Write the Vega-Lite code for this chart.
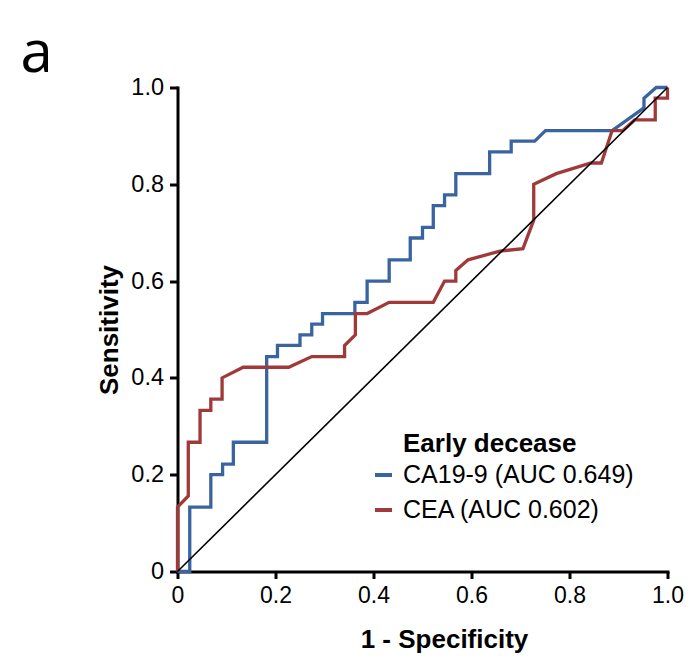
{
  "$schema": "https://vega.github.io/schema/vega-lite/v6.json",
  "width": 490,
  "height": 484,
  "autosize": {"type": "none"},
  "padding": {"left": 177.5, "top": 87.5, "right": 23.5, "bottom": 89.5},
  "background": "white",
  "title": {"text": "a", "anchor": "start", "frame": "group", "font": "Open Sans", "fontSize": 58, "fontWeight": "normal", "color": "black", "dx": -157, "offset": -8},
  "config": {"view": {"stroke": null}},
  "datasets": {
    "roc": [
      {"s": "CA19-9 (AUC 0.649)", "i": 1, "x": 0, "y": 0},
      {"s": "CA19-9 (AUC 0.649)", "i": 2, "x": 0.025, "y": 0},
      {"s": "CA19-9 (AUC 0.649)", "i": 3, "x": 0.025, "y": 0.133},
      {"s": "CA19-9 (AUC 0.649)", "i": 4, "x": 0.068, "y": 0.133},
      {"s": "CA19-9 (AUC 0.649)", "i": 5, "x": 0.068, "y": 0.2},
      {"s": "CA19-9 (AUC 0.649)", "i": 6, "x": 0.092, "y": 0.2},
      {"s": "CA19-9 (AUC 0.649)", "i": 7, "x": 0.092, "y": 0.222},
      {"s": "CA19-9 (AUC 0.649)", "i": 8, "x": 0.114, "y": 0.222},
      {"s": "CA19-9 (AUC 0.649)", "i": 9, "x": 0.114, "y": 0.267},
      {"s": "CA19-9 (AUC 0.649)", "i": 10, "x": 0.182, "y": 0.267},
      {"s": "CA19-9 (AUC 0.649)", "i": 11, "x": 0.182, "y": 0.444},
      {"s": "CA19-9 (AUC 0.649)", "i": 12, "x": 0.204, "y": 0.444},
      {"s": "CA19-9 (AUC 0.649)", "i": 13, "x": 0.204, "y": 0.467},
      {"s": "CA19-9 (AUC 0.649)", "i": 14, "x": 0.25, "y": 0.467},
      {"s": "CA19-9 (AUC 0.649)", "i": 15, "x": 0.25, "y": 0.489},
      {"s": "CA19-9 (AUC 0.649)", "i": 16, "x": 0.274, "y": 0.489},
      {"s": "CA19-9 (AUC 0.649)", "i": 17, "x": 0.274, "y": 0.511},
      {"s": "CA19-9 (AUC 0.649)", "i": 18, "x": 0.296, "y": 0.511},
      {"s": "CA19-9 (AUC 0.649)", "i": 19, "x": 0.296, "y": 0.533},
      {"s": "CA19-9 (AUC 0.649)", "i": 20, "x": 0.362, "y": 0.533},
      {"s": "CA19-9 (AUC 0.649)", "i": 21, "x": 0.362, "y": 0.556},
      {"s": "CA19-9 (AUC 0.649)", "i": 22, "x": 0.387, "y": 0.556},
      {"s": "CA19-9 (AUC 0.649)", "i": 23, "x": 0.387, "y": 0.6},
      {"s": "CA19-9 (AUC 0.649)", "i": 24, "x": 0.432, "y": 0.6},
      {"s": "CA19-9 (AUC 0.649)", "i": 25, "x": 0.432, "y": 0.644},
      {"s": "CA19-9 (AUC 0.649)", "i": 26, "x": 0.475, "y": 0.644},
      {"s": "CA19-9 (AUC 0.649)", "i": 27, "x": 0.475, "y": 0.689},
      {"s": "CA19-9 (AUC 0.649)", "i": 28, "x": 0.5, "y": 0.689},
      {"s": "CA19-9 (AUC 0.649)", "i": 29, "x": 0.5, "y": 0.711},
      {"s": "CA19-9 (AUC 0.649)", "i": 30, "x": 0.522, "y": 0.711},
      {"s": "CA19-9 (AUC 0.649)", "i": 31, "x": 0.522, "y": 0.756},
      {"s": "CA19-9 (AUC 0.649)", "i": 32, "x": 0.545, "y": 0.756},
      {"s": "CA19-9 (AUC 0.649)", "i": 33, "x": 0.545, "y": 0.778},
      {"s": "CA19-9 (AUC 0.649)", "i": 34, "x": 0.568, "y": 0.778},
      {"s": "CA19-9 (AUC 0.649)", "i": 35, "x": 0.568, "y": 0.822},
      {"s": "CA19-9 (AUC 0.649)", "i": 36, "x": 0.637, "y": 0.822},
      {"s": "CA19-9 (AUC 0.649)", "i": 37, "x": 0.637, "y": 0.867},
      {"s": "CA19-9 (AUC 0.649)", "i": 38, "x": 0.681, "y": 0.867},
      {"s": "CA19-9 (AUC 0.649)", "i": 39, "x": 0.681, "y": 0.889},
      {"s": "CA19-9 (AUC 0.649)", "i": 40, "x": 0.729, "y": 0.889},
      {"s": "CA19-9 (AUC 0.649)", "i": 41, "x": 0.751, "y": 0.911},
      {"s": "CA19-9 (AUC 0.649)", "i": 42, "x": 0.887, "y": 0.911},
      {"s": "CA19-9 (AUC 0.649)", "i": 43, "x": 0.952, "y": 0.958},
      {"s": "CA19-9 (AUC 0.649)", "i": 44, "x": 0.952, "y": 0.978},
      {"s": "CA19-9 (AUC 0.649)", "i": 45, "x": 0.977, "y": 1.0},
      {"s": "CA19-9 (AUC 0.649)", "i": 46, "x": 1.0, "y": 1.0},
      {"s": "CEA (AUC 0.602)", "i": 1, "x": 0, "y": 0},
      {"s": "CEA (AUC 0.602)", "i": 2, "x": 0, "y": 0.133},
      {"s": "CEA (AUC 0.602)", "i": 3, "x": 0.022, "y": 0.156},
      {"s": "CEA (AUC 0.602)", "i": 4, "x": 0.022, "y": 0.267},
      {"s": "CEA (AUC 0.602)", "i": 5, "x": 0.046, "y": 0.267},
      {"s": "CEA (AUC 0.602)", "i": 6, "x": 0.046, "y": 0.333},
      {"s": "CEA (AUC 0.602)", "i": 7, "x": 0.068, "y": 0.333},
      {"s": "CEA (AUC 0.602)", "i": 8, "x": 0.068, "y": 0.356},
      {"s": "CEA (AUC 0.602)", "i": 9, "x": 0.091, "y": 0.356},
      {"s": "CEA (AUC 0.602)", "i": 10, "x": 0.091, "y": 0.4},
      {"s": "CEA (AUC 0.602)", "i": 11, "x": 0.134, "y": 0.422},
      {"s": "CEA (AUC 0.602)", "i": 12, "x": 0.227, "y": 0.422},
      {"s": "CEA (AUC 0.602)", "i": 13, "x": 0.274, "y": 0.444},
      {"s": "CEA (AUC 0.602)", "i": 14, "x": 0.341, "y": 0.444},
      {"s": "CEA (AUC 0.602)", "i": 15, "x": 0.341, "y": 0.467},
      {"s": "CEA (AUC 0.602)", "i": 16, "x": 0.363, "y": 0.489},
      {"s": "CEA (AUC 0.602)", "i": 17, "x": 0.363, "y": 0.533},
      {"s": "CEA (AUC 0.602)", "i": 18, "x": 0.387, "y": 0.533},
      {"s": "CEA (AUC 0.602)", "i": 19, "x": 0.432, "y": 0.556},
      {"s": "CEA (AUC 0.602)", "i": 20, "x": 0.522, "y": 0.556},
      {"s": "CEA (AUC 0.602)", "i": 21, "x": 0.545, "y": 0.6},
      {"s": "CEA (AUC 0.602)", "i": 22, "x": 0.568, "y": 0.6},
      {"s": "CEA (AUC 0.602)", "i": 23, "x": 0.568, "y": 0.622},
      {"s": "CEA (AUC 0.602)", "i": 24, "x": 0.593, "y": 0.644},
      {"s": "CEA (AUC 0.602)", "i": 25, "x": 0.658, "y": 0.662},
      {"s": "CEA (AUC 0.602)", "i": 26, "x": 0.705, "y": 0.667},
      {"s": "CEA (AUC 0.602)", "i": 27, "x": 0.727, "y": 0.726},
      {"s": "CEA (AUC 0.602)", "i": 28, "x": 0.727, "y": 0.8},
      {"s": "CEA (AUC 0.602)", "i": 29, "x": 0.773, "y": 0.822},
      {"s": "CEA (AUC 0.602)", "i": 30, "x": 0.844, "y": 0.844},
      {"s": "CEA (AUC 0.602)", "i": 31, "x": 0.865, "y": 0.844},
      {"s": "CEA (AUC 0.602)", "i": 32, "x": 0.887, "y": 0.911},
      {"s": "CEA (AUC 0.602)", "i": 33, "x": 0.909, "y": 0.911},
      {"s": "CEA (AUC 0.602)", "i": 34, "x": 0.933, "y": 0.933},
      {"s": "CEA (AUC 0.602)", "i": 35, "x": 0.975, "y": 0.933},
      {"s": "CEA (AUC 0.602)", "i": 36, "x": 0.975, "y": 0.978},
      {"s": "CEA (AUC 0.602)", "i": 37, "x": 1.0, "y": 0.978},
      {"s": "CEA (AUC 0.602)", "i": 38, "x": 1.0, "y": 1.0}
    ],
    "ref": [
      {"i": 1, "x": 0, "y": 0},
      {"i": 2, "x": 1, "y": 1}
    ]
  },
  "layer": [
    {
      "data": {"name": "roc"},
      "mark": {"type": "line", "strokeWidth": 3.3, "strokeJoin": "miter"},
      "encoding": {
        "x": {
          "field": "x", "type": "quantitative",
          "scale": {"domain": [0, 1], "nice": false, "zero": false},
          "axis": {
            "title": "1 - Specificity",
            "titleX": 266.5,
            "values": [0, 0.2, 0.4, 0.6, 0.8, 1.0],
            "labelExpr": "datum.value == 0 ? '0' : format(datum.value, '.1f')",
            "grid": false,
            "domainColor": "black", "domainWidth": 3, "domainCap": "square",
            "tickColor": "black", "tickWidth": 3, "tickSize": 7,
            "labelFont": "Liberation Sans", "labelFontSize": 23, "labelColor": "black", "labelPadding": 6,
            "labelFlush": false, "labelOverlap": false,
            "titleFont": "Liberation Sans", "titleFontSize": 26, "titleFontWeight": "bold", "titleColor": "black", "titlePadding": 19
          }
        },
        "y": {
          "field": "y", "type": "quantitative",
          "scale": {"domain": [0, 1], "nice": false, "zero": false},
          "axis": {
            "title": "Sensitivity",
            "values": [0, 0.2, 0.4, 0.6, 0.8, 1.0],
            "labelExpr": "datum.value == 0 ? '0' : format(datum.value, '.1f')",
            "grid": false,
            "domainColor": "black", "domainWidth": 3, "domainCap": "square",
            "tickColor": "black", "tickWidth": 3, "tickSize": 8,
            "labelFont": "Liberation Sans", "labelFontSize": 23.5, "labelColor": "black", "labelPadding": 6,
            "labelFlush": false, "labelOverlap": false,
            "titleFont": "Liberation Sans", "titleFontSize": 26, "titleFontWeight": "bold", "titleColor": "black", "titlePadding": 8
          }
        },
        "color": {
          "field": "s", "type": "nominal",
          "scale": {"domain": ["CA19-9 (AUC 0.649)", "CEA (AUC 0.602)"], "range": ["#3a64a0", "#a03a3a"]},
          "legend": {
            "title": "Early decease",
            "orient": "none", "legendX": 193.5, "legendY": 343,
            "symbolType": "stroke", "symbolStrokeWidth": 4, "symbolSize": 289,
            "symbolOffset": 0, "labelOffset": 7,
            "labelFont": "Liberation Sans", "labelFontSize": 25, "labelColor": "black", "labelLimit": 400,
            "titleFont": "Liberation Sans", "titleFontSize": 26, "titleFontWeight": "bold", "titleColor": "black",
            "titlePadding": 6, "rowPadding": 9, "padding": 0,
            "encode": {"title": {"update": {"dx": {"value": 32}}}}
          }
        },
        "order": {"field": "i", "type": "quantitative"}
      }
    },
    {
      "data": {"name": "ref"},
      "mark": {"type": "line", "color": "black", "strokeWidth": 1.6},
      "encoding": {
        "x": {"field": "x", "type": "quantitative"},
        "y": {"field": "y", "type": "quantitative"},
        "order": {"field": "i", "type": "quantitative"}
      }
    }
  ]
}
